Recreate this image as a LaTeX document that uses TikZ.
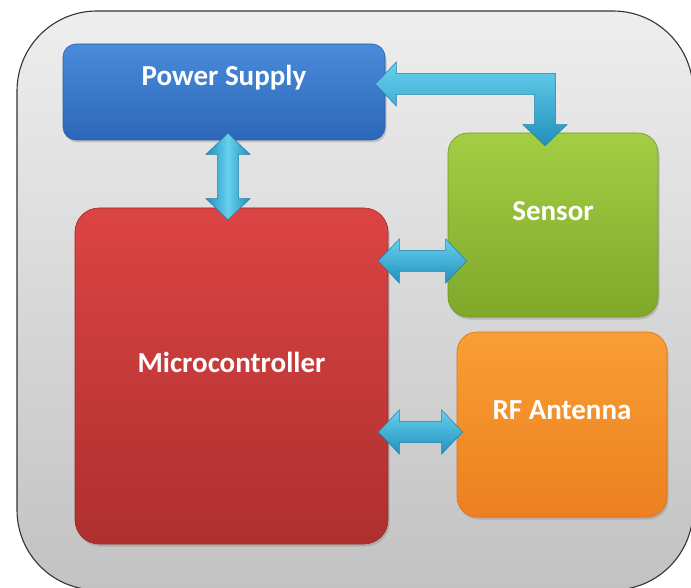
\documentclass[tikz,border=0pt]{standalone}
\usepackage{fontspec}
\setmainfont{Carlito}
\usetikzlibrary{shadows,calc}

\definecolor{panelTop}{HTML}{EEEEEE}
\definecolor{panelBot}{HTML}{C2C2C2}
\definecolor{psTop}{HTML}{4A8BDA}
\definecolor{psBot}{HTML}{2C66B8}
\definecolor{psLine}{HTML}{2A5EA8}
\definecolor{mcTop}{HTML}{DC4444}
\definecolor{mcBot}{HTML}{AE2F2F}
\definecolor{mcLine}{HTML}{9E2A2A}
\definecolor{snTop}{HTML}{A3CE44}
\definecolor{snBot}{HTML}{7FA82A}
\definecolor{snLine}{HTML}{739A25}
\definecolor{rfTop}{HTML}{F99E34}
\definecolor{rfBot}{HTML}{EC8020}
\definecolor{rfLine}{HTML}{D9741C}
\definecolor{cyanL}{HTML}{66D0EE}
\definecolor{cyanD}{HTML}{2290BC}
\definecolor{cyanE}{HTML}{1F7FA8}

% block-arrow geometry: head length, head half-width, shaft half-width
\def\hl{21pt}
\def\hh{22pt}
\def\hs{10.5pt}

\tikzset{
  panel/.style={rectangle, rounded corners=80pt, draw=black!80, line width=1.1pt,
    top color=panelTop, bottom color=panelBot},
  box/.style={rectangle, line width=0.6pt,
    drop shadow={shadow xshift=1.5pt, shadow yshift=-2.5pt, opacity=0.35}},
  boxtext/.style={text=white, font=\bfseries\fontsize{29}{31}\selectfont, yshift=14pt},
  harrow/.style={top color=cyanL, bottom color=cyanD, draw=cyanE, line width=0.5pt},
  varrow/.style={left color=cyanD, right color=cyanD, middle color=cyanL, draw=cyanE, line width=0.5pt},
}

% horizontal double block arrow between two tips at the same height
\newcommand\hdouble[2]{%
  \shade[harrow] let \p1=#1, \p2=#2 in
    (\x1,\y1) -- (\x1+\hl,\y1+\hh) -- (\x1+\hl,\y1+\hs) -- (\x2-\hl,\y1+\hs)
    -- (\x2-\hl,\y1+\hh) -- (\x2,\y1) -- (\x2-\hl,\y1-\hh) -- (\x2-\hl,\y1-\hs)
    -- (\x1+\hl,\y1-\hs) -- (\x1+\hl,\y1-\hh) -- cycle;}

% vertical double block arrow, upper tip first
\newcommand\vdouble[2]{%
  \shade[varrow] let \p1=#1, \p2=#2 in
    (\x1,\y1) -- (\x1+\hh,\y1-\hl) -- (\x1+\hs,\y1-\hl) -- (\x1+\hs,\y2+\hl)
    -- (\x1+\hh,\y2+\hl) -- (\x1,\y2) -- (\x1-\hh,\y2+\hl) -- (\x1-\hs,\y2+\hl)
    -- (\x1-\hs,\y1-\hl) -- (\x1-\hh,\y1-\hl) -- cycle;}

% elbow block arrow: left tip, then right and down to the lower tip
\newcommand\elbow[2]{%
  \shade[harrow] let \p1=#1, \p2=#2 in
    (\x1,\y1) -- (\x1+\hl,\y1+\hh) -- (\x1+\hl,\y1+\hs) -- (\x2+\hs,\y1+\hs)
    -- (\x2+\hs,\y2+\hl) -- (\x2+\hh,\y2+\hl) -- (\x2,\y2) -- (\x2-\hh,\y2+\hl)
    -- (\x2-\hs,\y2+\hl) -- (\x2-\hs,\y1-\hs) -- (\x1+\hl,\y1-\hs)
    -- (\x1+\hl,\y1-\hh) -- cycle;}

\begin{document}
\begin{tikzpicture}[x=1pt,y=-1pt]
\useasboundingbox (0,0) rectangle (691,588);
\fill[white] (0,0) rectangle (691,588);

% background panel
\node[panel, minimum width=676pt, minimum height=579pt] (panel) at (355,300.5) {};

% blocks
\node[box, top color=psTop, bottom color=psBot, draw=psLine, rounded corners=13pt,
  minimum width=322pt, minimum height=96pt,
  label={[boxtext]center:Power Supply}] (ps) at (224,92) {};
\node[box, top color=mcTop, bottom color=mcBot, draw=mcLine, rounded corners=24pt,
  minimum width=313pt, minimum height=336pt,
  label={[boxtext]center:Microcontroller}] (mc) at (231.5,376) {};
\node[box, top color=snTop, bottom color=snBot, draw=snLine, rounded corners=20pt,
  minimum width=210pt, minimum height=184pt,
  label={[boxtext]center:Sensor}] (sn) at (553,225) {};
\node[box, top color=rfTop, bottom color=rfBot, draw=rfLine, rounded corners=20pt,
  minimum width=210pt, minimum height=185pt,
  label={[boxtext]center:RF Antenna}] (rf) at (562,424.5) {};

% arrow tips
\coordinate (v1) at ([xshift=4pt,yshift=7pt]ps.south);
\coordinate (v2) at ([yshift=-12pt]mc.north -| v1);
\coordinate (e1) at ([xshift=-10pt,yshift=8pt]ps.east);
\coordinate (e2) at ([xshift=-8pt,yshift=-13pt]sn.north);
\coordinate (s2) at ([xshift=19pt,yshift=-36pt]sn.west);
\coordinate (s1) at ([xshift=-10pt]mc.east |- s2);
\coordinate (r2) at ([xshift=6pt,yshift=-7.5pt]rf.west);
\coordinate (r1) at ([xshift=-10pt]mc.east |- r2);

% connectors
\vdouble{(v1)}{(v2)}
\elbow{(e1)}{(e2)}
\hdouble{(s1)}{(s2)}
\hdouble{(r1)}{(r2)}
\end{tikzpicture}
\end{document}
